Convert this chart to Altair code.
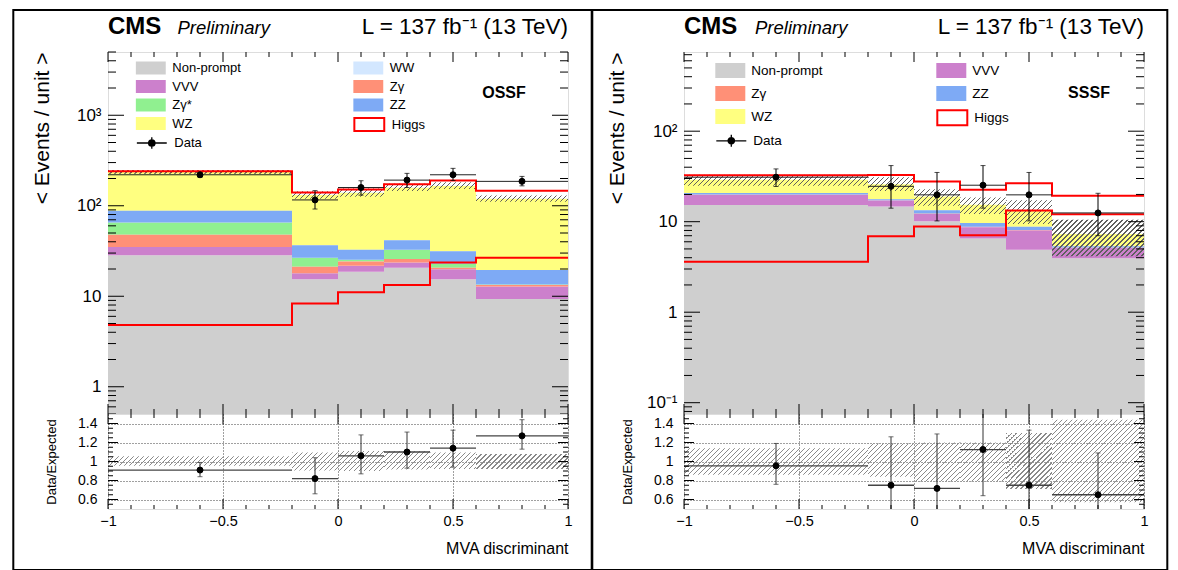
import altair as alt
import numpy as np
import pandas as pd

FONT = "Liberation Sans"
W, HU, HR = 460, 362, 95

# ---------------- data ----------------
bin_lo = [-1.0, -0.2, 0.0, 0.2, 0.4, 0.6]
bin_hi = [-0.2, 0.0, 0.2, 0.4, 0.6, 1.0]
bin_center = [-0.6, -0.1, 0.1, 0.3, 0.5, 0.8]
edges = [-1.0, -0.2, 0.0, 0.2, 0.4, 0.6, 1.0]

# OSSF (left)
ossf_nonprompt = [28.4, 15.4, 18.6, 20.6, 15.4, 9.3]
ossf_vvv = [6.7, 2.5, 3.1, 3.0, 4.5, 3.5]
ossf_zgamma = [12.6, 3.3, 2.5, 2.2, 0.8, 0.5]
ossf_zgammastar = [17.7, 5.4, 1.1, 6.8, 2.1, 0.2]
ossf_zz = [22.6, 10.0, 7.3, 9.0, 8.6, 6.0]
ossf_wz = [147.4, 95.0, 107.0, 117.0, 134.2, 100.1]
ossf_ww = [0.6, 0.4, 0.4, 0.4, 0.4, 0.4]
ossf_higgs = [4.8, 8.3, 11.1, 13.3, 23.6, 26.7]
ossf_data = [220, 116, 159, 192, 220, 186]
ossf_data_lo = [206, 92, 131, 159, 190, 166]
ossf_data_hi = [234, 147, 189, 228, 259, 211]
ossf_unc_lo = [0.955, 0.905, 0.90, 0.915, 0.92, 0.92]
ossf_unc_hi = [1.055, 1.095, 1.11, 1.11, 1.095, 1.08]
ossf_ratio = [0.91, 0.82, 1.06, 1.10, 1.14, 1.27]
ossf_ratio_lo = [0.84, 0.66, 0.87, 0.93, 0.94, 1.13]
ossf_ratio_hi = [0.99, 1.04, 1.28, 1.31, 1.33, 1.44]

# SSSF (right)
sssf_nonprompt = [15.3, 14.7, 10.1, 6.5, 4.9, 3.95]
sssf_vvv = [4.5, 2.5, 2.1, 2.2, 3.1, 1.2]
sssf_zgamma = [0.2, 0.1, 0.1, 0.1, 0.1, 0.05]
sssf_zz = [0.8, 0.4, 1.1, 0.9, 0.7, 0.15]
sssf_wz = [8.2, 8.3, 5.6, 5.7, 4.5, 1.95]
sssf_higgs = [3.6, 6.9, 8.85, 7.1, 13.3, 12.1]
sssf_data = [31.0, 24.6, 19.8, 25.3, 19.8, 12.5]
sssf_data_lo = [24.5, 14.1, 10.2, 14.1, 10.2, 7.0]
sssf_data_hi = [38.3, 41.7, 35.0, 41.7, 35.0, 20.6]
sssf_unc_lo = [0.86, 0.84, 0.79, 0.79, 0.71, 0.57]
sssf_unc_hi = [1.14, 1.19, 1.20, 1.20, 1.30, 1.44]
sssf_ratio = [0.955, 0.75, 0.717, 1.126, 0.75, 0.65]
sssf_ratio_lo = [0.76, 0.43, 0.37, 0.64, 0.39, 0.37]
sssf_ratio_hi = [1.19, 1.26, 1.29, 1.62, 1.33, 1.09]

COL = {"Non-prompt": "#cfcfcf", "VVV": "#cc80cc", "Zγ": "#ff9077",
       "Zγ*": "#90f090", "ZZ": "#7eaaf5", "WZ": "#ffff80", "WW": "#d3e7ff"}

XMAJ = [-1.0, -0.5, 0.0, 0.5, 1.0]
XMIN = [round(-1 + 0.1 * k, 2) for k in range(1, 20) if k % 5 != 0]
RMAJ = [0.6, 0.8, 1.0, 1.2, 1.4]
RMIN = [round(0.5 + 0.05 * k, 2) for k in range(1, 20) if round(0.5 + 0.05 * k, 2) not in RMAJ]

dummy = pd.DataFrame({"a": [0]})


def log_minor(lo, hi):
    out = []
    for e in range(-3, 5):
        for m in range(2, 10):
            v = round(m * 10 ** e, 6)
            if lo <= v <= hi:
                out.append(v)
    return out


def hatch(w, h, period=5.0, lw=1.2, color="#7c7c7c"):
    T = w + h
    clear = "rgba(255,255,255,0)"
    stops = []
    pos = 0.0
    while pos < T - 1e-9:
        a = pos / T
        b = min((pos + lw) / T, 1.0)
        c = min((pos + period) / T, 1.0)
        stops += [alt.GradientStop(offset=a, color=color), alt.GradientStop(offset=b, color=color),
                  alt.GradientStop(offset=b, color=clear), alt.GradientStop(offset=c, color=clear)]
        pos += period
    den = w * w + h * h
    return alt.LinearGradient(gradient="linear", stops=stops, x1=0, y1=0,
                              x2=w * T / den, y2=h * T / den)


def axis_layer(ch, xsc, ysc, axis, vals, other):
    # both position channels are encoded so that every axis has a grid scale
    if ch == "x":
        df = pd.DataFrame({"v": vals, "o": [other] * len(vals)})
        return alt.Chart(df).mark_point(opacity=0).encode(
            x=alt.X("v:Q", scale=xsc, axis=axis), y=alt.Y("o:Q", scale=ysc, axis=None))
    df = pd.DataFrame({"v": vals, "o": [0.0] * len(vals)})
    return alt.Chart(df).mark_point(opacity=0).encode(
        y=alt.Y("v:Q", scale=ysc, axis=axis), x=alt.X("o:Q", scale=xsc, axis=None))


def tick_rules(xsc, ysc, H, ymaj, ymin, ys, xs):
    """ROOT-style inward ticks on all four sides (positions through the scales)."""
    out = []
    for vals, s in ((ymaj, ys[0]), (ymin, ys[1])):
        df = pd.DataFrame({"v": vals})
        for a, b in ((0, s), (W - s, W)):
            out.append(alt.Chart(df).mark_rule(color="black", strokeWidth=1).encode(
                y=alt.Y("v:Q", scale=ysc, axis=None), x=alt.value(a), x2=alt.value(b)))
    for vals, s in ((XMAJ, xs[0]), (XMIN, xs[1])):
        df = pd.DataFrame({"v": vals})
        for a, b in ((0, s), (H - s, H)):
            out.append(alt.Chart(df).mark_rule(color="black", strokeWidth=1).encode(
                x=alt.X("v:Q", scale=xsc, axis=None), y=alt.value(a), y2=alt.value(b)))
    return out


def text_layer(txt, x, y, size, weight="normal", style="normal", align="left", baseline="alphabetic"):
    return alt.Chart(dummy).mark_text(text=txt, font=FONT, fontSize=size, fontWeight=weight,
                                      fontStyle=style, align=align, baseline=baseline,
                                      color="black").encode(x=alt.value(x), y=alt.value(y))


def leg(x, y, path, size, rowpad, fs, loff, **kw):
    return alt.Legend(orient="none", legendX=x, legendY=y, direction="vertical", title=None,
                      symbolType=path, symbolSize=size, rowPadding=rowpad, padding=0,
                      labelFont=FONT, labelFontSize=fs, labelColor="black", labelOffset=loff,
                      labelLimit=300, **kw)


def circ(r):
    return f"M{-r:.3f},0A{r:.3f},{r:.3f},0,1,0,{r:.3f},0A{r:.3f},{r:.3f},0,1,0,{-r:.3f},0"


def data_symbol(half, bar, scale):
    # horizontal line, vertical error bar and a (stroked, concentric) dot
    rings = "".join(circ(r / scale) for r in (0.5, 1.2, 1.9, 2.6, 3.2))
    return f"M{-half},0H{half}M0,{-bar}V{bar}" + rings


def build_upper(p):
    xsc = alt.Scale(domain=[-1, 1], nice=False, zero=False)
    ysc = alt.Scale(type="log", domain=p["ydom"], nice=False, zero=False)
    rows = []
    cum = np.zeros(6)
    for name, vals in p["stack"]:
        for i in range(6):
            rows.append({"comp": name, "lo": bin_lo[i], "hi": bin_hi[i],
                         "y0": cum[i] if cum[i] > 0 else 1e-4, "y1": cum[i] + vals[i]})
        cum = cum + np.array(vals, dtype=float)
    sdf = pd.DataFrame(rows)
    bkg = cum
    lg = p["leg"]
    X = lambda f: alt.X(f, scale=xsc, axis=None)
    Y = lambda f: alt.Y(f, scale=ysc, axis=None)
    L = []
    # stacked components, split in two legend columns
    for chan, names, pos in (("fill", p["col1"], lg["c1"]), ("color", p["col2"], lg["c2"])):
        sub = sdf[sdf.comp.isin(names)]
        lgd = leg(pos[0], pos[1], lg["rect"], lg["size"], lg["rowpad"], lg["fs"], lg["loff"],
                  symbolStrokeWidth=0)
        sc = alt.Scale(domain=names, range=[COL[n] for n in names])
        enc = alt.Fill("comp:N", scale=sc, legend=lgd) if chan == "fill" else \
            alt.Color("comp:N", scale=sc, legend=lgd)
        L.append(alt.Chart(sub).mark_rect(clip=True, strokeWidth=0).encode(
            x=X("lo:Q"), x2="hi:Q", y=Y("y0:Q"), y2="y1:Q", **{chan: enc}))
    # hatched uncertainty
    blo = bkg * np.array(p["unc_lo"])
    bhi = bkg * np.array(p["unc_hi"])
    for i in range(6):
        w = W / 2 * (bin_hi[i] - bin_lo[i])
        h = HU / 4 * np.log10(bhi[i] / blo[i])
        d = pd.DataFrame({"lo": [bin_lo[i]], "hi": [bin_hi[i]], "b0": [blo[i]], "b1": [bhi[i]]})
        L.append(alt.Chart(d).mark_rect(fill=hatch(w, h, lw=1.3, color="#5f5f5f"), clip=True).encode(
            x=X("lo:Q"), x2="hi:Q", y=Y("b0:Q"), y2="b1:Q"))
    # Higgs stacked on top
    top = list(bkg + np.array(p["higgs"]))
    hd = pd.DataFrame({"x": edges, "y": top + [top[-1]], "lab": "Higgs"})
    hleg = leg(lg["hg"][0], lg["hg"][1], lg["rect"], lg["size"], lg["rowpad"], lg["fs"], lg["loff"],
               symbolFillColor="white", symbolStrokeWidth=2)
    L.append(alt.Chart(hd).mark_line(interpolate="step-after", strokeWidth=2, clip=True).encode(
        x=X("x:Q"), y=Y("y:Q"),
        stroke=alt.Stroke("lab:N", scale=alt.Scale(domain=["Higgs"], range=["#ff0000"]), legend=hleg)))
    hs = pd.DataFrame({"x": edges, "y": p["higgs"] + [p["higgs"][-1]]})
    L.append(alt.Chart(hs).mark_line(interpolate="step-after", strokeWidth=2, color="#ff0000",
                                     clip=True).encode(x=X("x:Q"), y=Y("y:Q")))
    # data
    dd = pd.DataFrame({"c": bin_center, "lo": bin_lo, "hi": bin_hi, "v": p["data"],
                       "elo": p["data_lo"], "ehi": p["data_hi"], "lab": "Data"})
    dleg = leg(lg["dt"][0], lg["dt"][1], lg["dpath"], lg["size"], lg["rowpad"], lg["fs"], lg["loff"],
               symbolStrokeColor="black", symbolStrokeWidth=1.3)
    L.append(alt.Chart(dd).mark_rule(color="#222222", strokeWidth=1, clip=True).encode(
        x=X("lo:Q"), x2="hi:Q", y=Y("v:Q"),
        opacity=alt.Opacity("lab:N", scale=alt.Scale(domain=["Data"], range=[1.0]), legend=dleg)))
    L.append(alt.Chart(dd).mark_rule(color="black", strokeWidth=1, clip=True).encode(
        x=X("c:Q"), y=Y("elo:Q"), y2="ehi:Q"))
    for f in ("elo:Q", "ehi:Q"):
        L.append(alt.Chart(dd).mark_tick(orient="horizontal", size=5, thickness=1, color="black",
                                         clip=True).encode(x=X("c:Q"), y=Y(f)))
    L.append(alt.Chart(dd).mark_point(filled=True, size=36, color="black", stroke="black",
                                      strokeWidth=1, opacity=1, clip=True).encode(
        x=X("c:Q"), y=Y("v:Q")))
    # texts and frame
    L.append(text_layer("CMS", 0, -18, 24, weight="bold"))
    L.append(text_layer("Preliminary", p["prelim_x"], -18, 18.5, style="italic"))
    L.append(text_layer("L = 137 fb⁻¹ (13 TeV)", W, -18, 22.5, align="right"))
    L.append(text_layer(p["region"], p["region_x"], 41, 16, weight="bold", align="center",
                        baseline="middle"))
    fr = p["frame"]
    L.append(alt.Chart(dummy).mark_rect(fillOpacity=0, stroke="black", strokeWidth=2).encode(
        x=alt.value(fr[0]), x2=alt.value(fr[1]), y=alt.value(-42), y2=alt.value(HU + HR + 61)))
    # ticks and labels
    L += tick_rules(xsc, ysc, HU, p["ymaj"], log_minor(*p["ydom"]), (16, 8), (10, 5))
    ylab = alt.Axis(orient="left", values=p["ymaj"], labelExpr=p["labexpr"], labelFontSize=17,
                    labelPadding=7, ticks=False, tickSize=0, domain=False, grid=False,
                    labelOverlap=False, labelFont=FONT, labelColor="black",
                    title="< Events / unit >", titleFont=FONT, titleFontSize=21,
                    titleFontWeight="normal", titleAngle=270, titleAlign="right",
                    titleBaseline="alphabetic", titleX=p["ytitle_x"], titleY=0, titleColor="black")
    L.append(axis_layer("y", xsc, ysc, ylab, p["ymaj"], p["ymaj"][1]))
    return alt.layer(*L).resolve_axis(x="independent", y="independent").properties(width=W, height=HU)


def build_ratio(p):
    xsc = alt.Scale(domain=[-1, 1], nice=False, zero=False)
    ysc = alt.Scale(domain=[0.5, 1.5], nice=False, zero=False)
    X = lambda f: alt.X(f, scale=xsc, axis=None)
    Y = lambda f: alt.Y(f, scale=ysc, axis=None)
    L = []
    for i in range(6):
        w = W / 2 * (bin_hi[i] - bin_lo[i])
        h = HR * (p["unc_hi"][i] - p["unc_lo"][i])
        d = pd.DataFrame({"lo": [bin_lo[i]], "hi": [bin_hi[i]], "b0": [p["unc_lo"][i]],
                          "b1": [p["unc_hi"][i]]})
        L.append(alt.Chart(d).mark_rect(fill=hatch(w, h, color="#8a8a8a"), clip=True).encode(
            x=X("lo:Q"), x2="hi:Q", y=Y("b0:Q"), y2="b1:Q"))
    dd = pd.DataFrame({"c": bin_center, "lo": bin_lo, "hi": bin_hi, "v": p["ratio"],
                       "elo": p["ratio_lo"], "ehi": p["ratio_hi"]})
    L.append(alt.Chart(dd).mark_rule(color="#444444", strokeWidth=1.3, clip=True).encode(
        x=X("lo:Q"), x2="hi:Q", y=Y("v:Q")))
    L.append(alt.Chart(dd).mark_rule(color="#333333", strokeWidth=1, clip=True).encode(
        x=X("c:Q"), y=Y("elo:Q"), y2="ehi:Q"))
    for f in ("elo:Q", "ehi:Q"):
        L.append(alt.Chart(dd).mark_tick(orient="horizontal", size=5, thickness=1, color="#333333",
                                         clip=True).encode(x=X("c:Q"), y=Y(f)))
    L.append(alt.Chart(dd).mark_point(filled=True, size=36, color="black", stroke="black",
                                      strokeWidth=1, opacity=1, clip=True).encode(
        x=X("c:Q"), y=Y("v:Q")))
    L += tick_rules(xsc, ysc, HR, RMAJ, RMIN, (10, 5), (10, 4))
    ylab = alt.Axis(orient="left", values=RMAJ, format="~g", labelFontSize=14, labelPadding=11,
                    ticks=False, tickSize=0, domain=False, grid=True, gridDash=[1, 2],
                    gridColor="black", gridOpacity=0.75, labelOverlap=False, labelFont=FONT,
                    labelColor="black", title="Data/Expected", titleFont=FONT, titleFontSize=13,
                    titleFontWeight="normal", titleAngle=270, titleAlign="center",
                    titleBaseline="alphabetic", titleX=-53, titleY=HR / 2, titleColor="black")
    xlab = alt.Axis(orient="bottom", values=XMAJ, format="~g", labelFontSize=14.5, labelPadding=5,
                    ticks=False, tickSize=0, domain=False, grid=True, gridDash=[1, 2],
                    gridColor="black", gridOpacity=0.75, labelOverlap=False, labelFlush=False,
                    labelFont=FONT, labelColor="black", title="MVA discriminant", titleFont=FONT,
                    titleFontSize=16, titleFontWeight="normal", titleAlign="right",
                    titleBaseline="alphabetic", titleX=W, titleY=44, titleColor="black")
    L.append(axis_layer("y", xsc, ysc, ylab, RMAJ, 1.0))
    L.append(axis_layer("x", xsc, ysc, xlab, XMAJ, 1.0))
    return alt.layer(*L).resolve_axis(x="independent", y="independent").properties(width=W, height=HR)


RECT_L = "M-2.3,-1H2.3V1H-2.3Z"
DATA_L = data_symbol(2.3, 0.9, 6.5)
RECT_R = "M-2,-1H2V1H-2Z"
DATA_R = data_symbol(2.0, 0.8, 7.5)

left = dict(
    stack=[("Non-prompt", ossf_nonprompt), ("VVV", ossf_vvv), ("Zγ", ossf_zgamma),
           ("Zγ*", ossf_zgammastar), ("ZZ", ossf_zz), ("WZ", ossf_wz), ("WW", ossf_ww)],
    col1=["Non-prompt", "VVV", "Zγ*", "WZ"], col2=["WW", "Zγ", "ZZ"],
    higgs=ossf_higgs, data=ossf_data, data_lo=ossf_data_lo, data_hi=ossf_data_hi,
    unc_lo=ossf_unc_lo, unc_hi=ossf_unc_hi, ratio=ossf_ratio, ratio_lo=ossf_ratio_lo,
    ratio_hi=ossf_ratio_hi, ydom=[0.5, 5000], ymaj=[1, 10, 100, 1000],
    labexpr="datum.value == 1000 ? '10³' : datum.value == 100 ? '10²' : datum.value == 10 ? '10' : '1'",
    region="OSSF", region_x=396, prelim_x=69.5, frame=[-94.7, 483.7], ytitle_x=-60,
    leg=dict(rect=RECT_L, dpath=DATA_L, size=169, rowpad=4.5, fs=13, loff=15,
             c1=(36.3, 9.5), c2=(253.8, 9.5), dt=(36.3, 83.5), hg=(253.8, 65.0)),
)
right = dict(
    stack=[("Non-prompt", sssf_nonprompt), ("VVV", sssf_vvv), ("Zγ", sssf_zgamma),
           ("ZZ", sssf_zz), ("WZ", sssf_wz)],
    col1=["Non-prompt", "Zγ", "WZ"], col2=["VVV", "ZZ"],
    higgs=sssf_higgs, data=sssf_data, data_lo=sssf_data_lo, data_hi=sssf_data_hi,
    unc_lo=sssf_unc_lo, unc_hi=sssf_unc_hi, ratio=sssf_ratio, ratio_lo=sssf_ratio_lo,
    ratio_hi=sssf_ratio_hi, ydom=[0.075, 750], ymaj=[0.1, 1, 10, 100],
    labexpr="datum.value == 100 ? '10²' : datum.value == 10 ? '10' : datum.value == 1 ? '1' : '10⁻¹'",
    region="SSSF", region_x=405, prelim_x=71, frame=[-91.7, 483.3], ytitle_x=-61,
    leg=dict(rect=RECT_R, dpath=DATA_R, size=225, rowpad=8, fs=13.5, loff=13.5,
             c1=(38.8, 11.0), c2=(259.8, 11.0), dt=(38.8, 80.3), hg=(259.8, 57.2)),
)

chart = alt.concat(
    build_upper(left), build_upper(right), build_ratio(left), build_ratio(right),
    columns=2, spacing={"row": 0, "column": 116}, bounds="flush"
).resolve_scale(
    x="independent", y="independent", fill="independent", color="independent",
    stroke="independent", opacity="independent"
).resolve_legend(
    fill="independent", color="independent", stroke="independent", opacity="independent"
).properties(padding={"left": 3, "top": 0, "right": 0, "bottom": 0}
).configure_view(stroke="black", strokeWidth=1).configure(background="white")

chart.save("out.html", embed_options={"renderer": "svg", "actions": False})
